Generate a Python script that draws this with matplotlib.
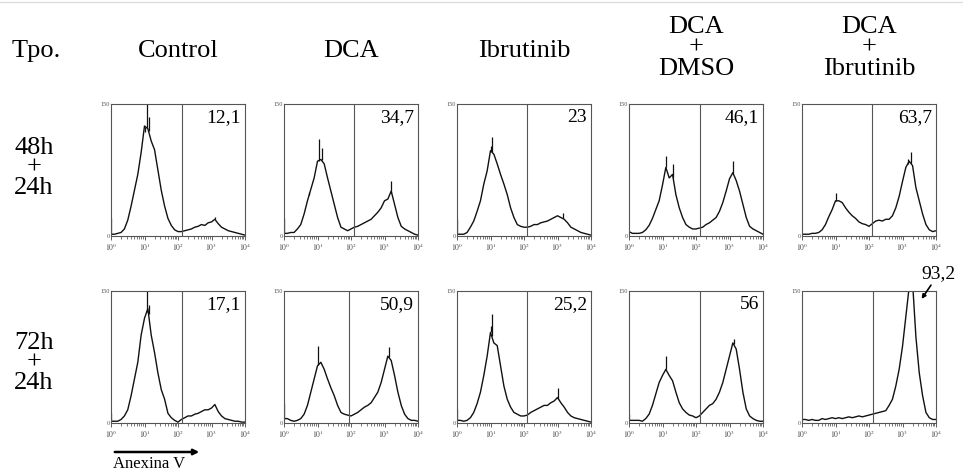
import numpy as np
import matplotlib.pyplot as plt
from matplotlib.lines import Line2D
from matplotlib.patches import FancyArrowPatch

plt.rcParams['font.family'] = ['Liberation Serif', 'DejaVu Serif']
plt.rcParams['mathtext.fontset'] = 'stix'

# channel positions, in decades (10^0 .. 10^4)
log_channel = np.round(np.arange(41) * 0.1, 1)

row_labels = ["48h\n+\n24h", "72h\n+\n24h"]
col_labels = ["Control", "DCA", "Ibrutinib", "DCA\n+\nDMSO", "DCA\n+\nIbrutinib"]
percent = [["12,1", "34,7", "23", "46,1", "63,7"],
           ["17,1", "50,9", "25,2", "56", "93,2"]]
gates = [[2.11, 2.10, 2.08, 2.11, 2.10],
         [2.11, 1.95, 2.08, 2.11, 2.11]]

# counts per channel
c_48_control = [2, 2, 3, 4, 8, 18, 34, 52, 70, 95, 125, 122, 108, 98, 75, 52, 34, 20, 12, 7, 5,
                5, 6, 7, 8, 10, 11, 13, 12, 15, 16, 19, 14, 10, 8, 6, 5, 4, 3, 2, 1]
c_48_dca = [3, 3, 4, 4, 8, 13, 25, 40, 53, 66, 85, 87, 82, 66, 51, 36, 21, 10, 8, 6, 8,
            10, 11, 13, 15, 17, 19, 23, 27, 32, 40, 42, 51, 36, 21, 11, 8, 6, 4, 2, 1]
c_48_ibr = [2, 2, 2, 4, 10, 17, 28, 40, 59, 74, 97, 93, 82, 70, 59, 47, 32, 21, 13, 11, 10,
            10, 11, 13, 13, 15, 16, 17, 19, 21, 23, 21, 19, 15, 10, 8, 6, 4, 3, 2, 1]
c_48_dmso = [5, 3, 3, 3, 4, 7, 12, 20, 30, 40, 58, 78, 66, 70, 47, 32, 21, 13, 10, 8, 8,
             9, 10, 13, 15, 18, 21, 28, 38, 51, 65, 72, 63, 51, 36, 21, 11, 8, 6, 4, 2]
c_48_dcaibr = [2, 2, 2, 3, 3, 4, 7, 13, 22, 30, 40, 40, 38, 32, 27, 23, 20, 16, 14, 13, 11,
               14, 17, 18, 17, 19, 19, 23, 32, 45, 62, 78, 85, 80, 55, 40, 25, 13, 7, 5, 6]
c_72_control = [2, 2, 2, 4, 8, 15, 31, 50, 69, 100, 119, 130, 100, 80, 57, 38, 27, 11, 6, 3, 1,
                4, 6, 8, 8, 10, 11, 13, 15, 15, 17, 21, 13, 8, 5, 4, 3, 2, 2, 1, 1]
c_72_dca = [5, 5, 3, 2, 3, 5, 10, 20, 35, 50, 65, 69, 61, 50, 40, 31, 20, 12, 10, 9, 8,
            10, 12, 15, 18, 20, 23, 29, 35, 46, 61, 76, 71, 54, 35, 20, 10, 5, 3, 3, 2]
c_72_ibr = [3, 3, 2, 3, 6, 12, 22, 35, 54, 76, 103, 91, 88, 65, 42, 27, 18, 12, 10, 8, 8,
            9, 12, 14, 16, 18, 20, 20, 23, 25, 29, 23, 18, 12, 8, 6, 5, 4, 3, 2, 1]
c_72_dmso = [3, 3, 3, 3, 2, 5, 10, 20, 33, 46, 54, 61, 54, 48, 35, 23, 16, 12, 9, 8, 6,
             8, 12, 16, 20, 22, 27, 35, 46, 61, 76, 91, 84, 61, 35, 16, 8, 5, 3, 2, 2]
c_72_dcaibr = [4, 4, 3, 4, 3, 3, 5, 4, 5, 6, 5, 6, 5, 6, 7, 6, 7, 8, 7, 8, 9,
               10, 11, 12, 13, 14, 20, 27, 42, 61, 87, 121, 155, 160, 98, 57, 31, 12, 6, 4, 4]

counts = [[c_48_control, c_48_dca, c_48_ibr, c_48_dmso, c_48_dcaibr],
          [c_72_control, c_72_dca, c_72_ibr, c_72_dmso, c_72_dcaibr]]

# single-channel spikes (decade, count)
spikes = [[[(0.0, 20), (1.06, 152), (1.02, 118), (1.12, 135), (3.1, 22)],
           [(0.0, 21), (1.03, 110), (1.12, 100), (3.18, 63), (0.75, 50)],
           [(0.0, 19), (1.05, 112), (1.0, 102), (3.15, 26)],
           [(1.1, 91), (1.32, 82), (3.1, 85)],
           [(1.02, 49), (3.25, 95), (3.15, 88)]],
          [[(0.0, 11), (1.06, 152), (1.12, 134)],
           [(0.0, 23), (1.02, 88), (3.12, 86)],
           [(0.0, 16), (1.03, 124), (1.0, 110), (3.02, 40)],
           [(0.0, 10), (1.1, 76), (3.12, 95)],
           []]]

W, H = 963, 471
lefts = [111, 284, 457, 629, 802]
tops = [104, 291]
pw, ph = 134, 132


def fpos(x, y):
    return x / W, 1 - y / H


fig = plt.figure(figsize=(W / 100, H / 100), dpi=100)
x = 10 ** log_channel
line_col = '#111111'

for r in range(2):
    for c in range(5):
        ax = fig.add_axes([lefts[c] / W, 1 - (tops[r] + ph) / H, pw / W, ph / H])
        y = counts[r][c]
        ax.plot(x, y, color=line_col, lw=1.0)
        for pos, h in spikes[r][c]:
            base = np.interp(pos, log_channel, y)
            ax.vlines(10 ** pos, base, h, color=line_col, lw=0.9)
        ax.axvline(10 ** gates[r][c], color='#555555', lw=0.8)
        ax.set_xscale('log')
        ax.set_xlim(1, 1e4)
        ax.set_ylim(0, 150)
        for s in ax.spines.values():
            s.set_color('#555555')
            s.set_linewidth(0.8)
        ax.set_xticks([1, 10, 100, 1000, 10000])
        ax.set_xticklabels(['$10^0$', '$10^1$', '$10^2$', '$10^3$', '$10^4$'])
        ax.tick_params(axis='x', which='major', length=3, width=0.6, color='#444444',
                       labelsize=5.5, pad=1, labelcolor='#444444')
        ax.tick_params(axis='x', which='minor', length=2, width=0.5, color='#444444')
        ax.set_yticks([0, 150])
        ax.set_yticklabels(['0', '150'])
        ax.tick_params(axis='y', length=0, labelsize=4.5, pad=1, labelcolor='#555555')

        if r == 1 and c == 4:
            ax.annotate(percent[r][c], xy=(10 ** 3.57, 141), xytext=(1.02, 1.13),
                        textcoords='axes fraction', ha='center', va='center', fontsize=14,
                        arrowprops=dict(arrowstyle='-|>', color='k', lw=1.2,
                                        shrinkA=0, shrinkB=0, mutation_scale=6),
                        annotation_clip=False)
        else:
            ax.text(0.97, 0.96, percent[r][c], transform=ax.transAxes,
                    ha='right', va='top', fontsize=14)

# column headers
fig.text(*fpos(36, 57), "Tpo.", ha='center', va='baseline', fontsize=19)
for c, lab in enumerate(col_labels):
    cx = lefts[c] + pw / 2
    if '\n' in lab:
        fig.text(*fpos(cx, 48), lab, ha='center', va='center', fontsize=19,
                 linespacing=0.92, multialignment='center')
    else:
        fig.text(*fpos(cx, 57), lab, ha='center', va='baseline', fontsize=19)

# row labels
for r, lab in enumerate(row_labels):
    fig.text(*fpos(34, [168, 363][r]), lab, ha='center', va='center', fontsize=19,
             linespacing=0.88, multialignment='center')

# Anexina V arrow
fig.add_artist(FancyArrowPatch(fpos(112, 452), fpos(202, 452), transform=fig.transFigure,
                               arrowstyle='-|>', mutation_scale=8, lw=1.8, color='k'))
fig.text(*fpos(113, 468), "Anexina V", ha='left', va='baseline', fontsize=12)

fig.add_artist(Line2D([0, 1], [1 - 1.5 / H] * 2, color='#dddddd', lw=1))

fig.savefig('out.png', dpi=100)
